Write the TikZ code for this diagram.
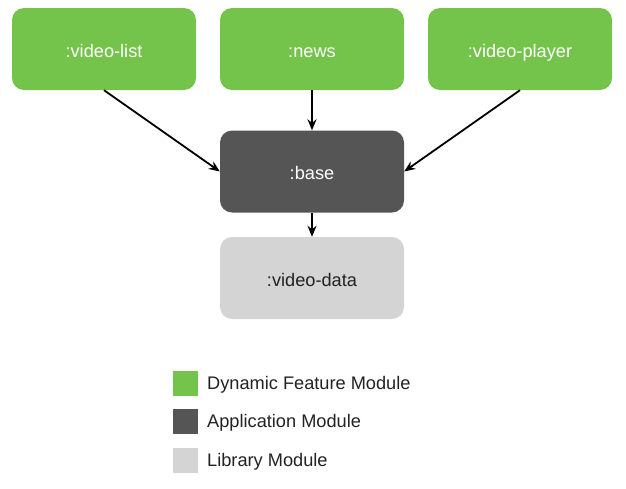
\documentclass[tikz,border=0pt]{standalone}
\usepackage{fontspec}
\setmainfont{Liberation Sans}
\usetikzlibrary{arrows.meta}
\definecolor{dfgreen}{HTML}{74C34B}
\definecolor{appgray}{HTML}{555555}
\definecolor{libgray}{HTML}{D4D4D4}
\definecolor{txtdark}{HTML}{222222}
\begin{document}
\begin{tikzpicture}[x=1pt,y=-1pt,
  modbox/.style={rounded corners=12pt, minimum width=184pt, minimum height=82pt, inner sep=0pt, text height=16pt, text depth=0pt, font=\fontsize{18.2}{21}\selectfont},
  feat/.style={modbox, fill=dfgreen, text=white},
  appmod/.style={modbox, fill=appgray, text=white},
  libmod/.style={modbox, fill=libgray, text=txtdark},
  dep/.style={-{Stealth[length=11pt,width=9pt]}, line width=1.8pt, black},
  legsq/.style={minimum size=25pt, inner sep=0pt, anchor=north west},
  legtxt/.style={anchor=base west, text=txtdark, font=\fontsize{18.2}{21}\selectfont, inner sep=0pt}]
\useasboundingbox (0,0) rectangle (626,488);
\node[feat] (vlist) at (104,49) {:video-list};
\node[feat] (news) at (312,49) {:news};
\node[feat] (vplayer) at (520,49) {:video-player};
\node[appmod] (base) at (312,171.5) {:base};
\node[libmod] (vdata) at (312,278) {:video-data};
\draw[dep] (vlist.south) -- (base.west);
\draw[dep] (news.south) -- (base.north);
\draw[dep] (vplayer.south) -- (base.east);
\draw[dep] (base.south) -- (vdata.north);
\node[legsq, fill=dfgreen] (l1) at (173,371) {};
\node[legsq, fill=appgray] (l2) at (173,409) {};
\node[legsq, fill=libgray] (l3) at (173,448) {};
\node[legtxt] (t1) at (207,389.5) {Dynamic Feature Module};
\node[legtxt] (t2) at (207,427.5) {Application Module};
\node[legtxt] (t3) at (207,466.5) {Library Module};
\end{tikzpicture}
\end{document}
